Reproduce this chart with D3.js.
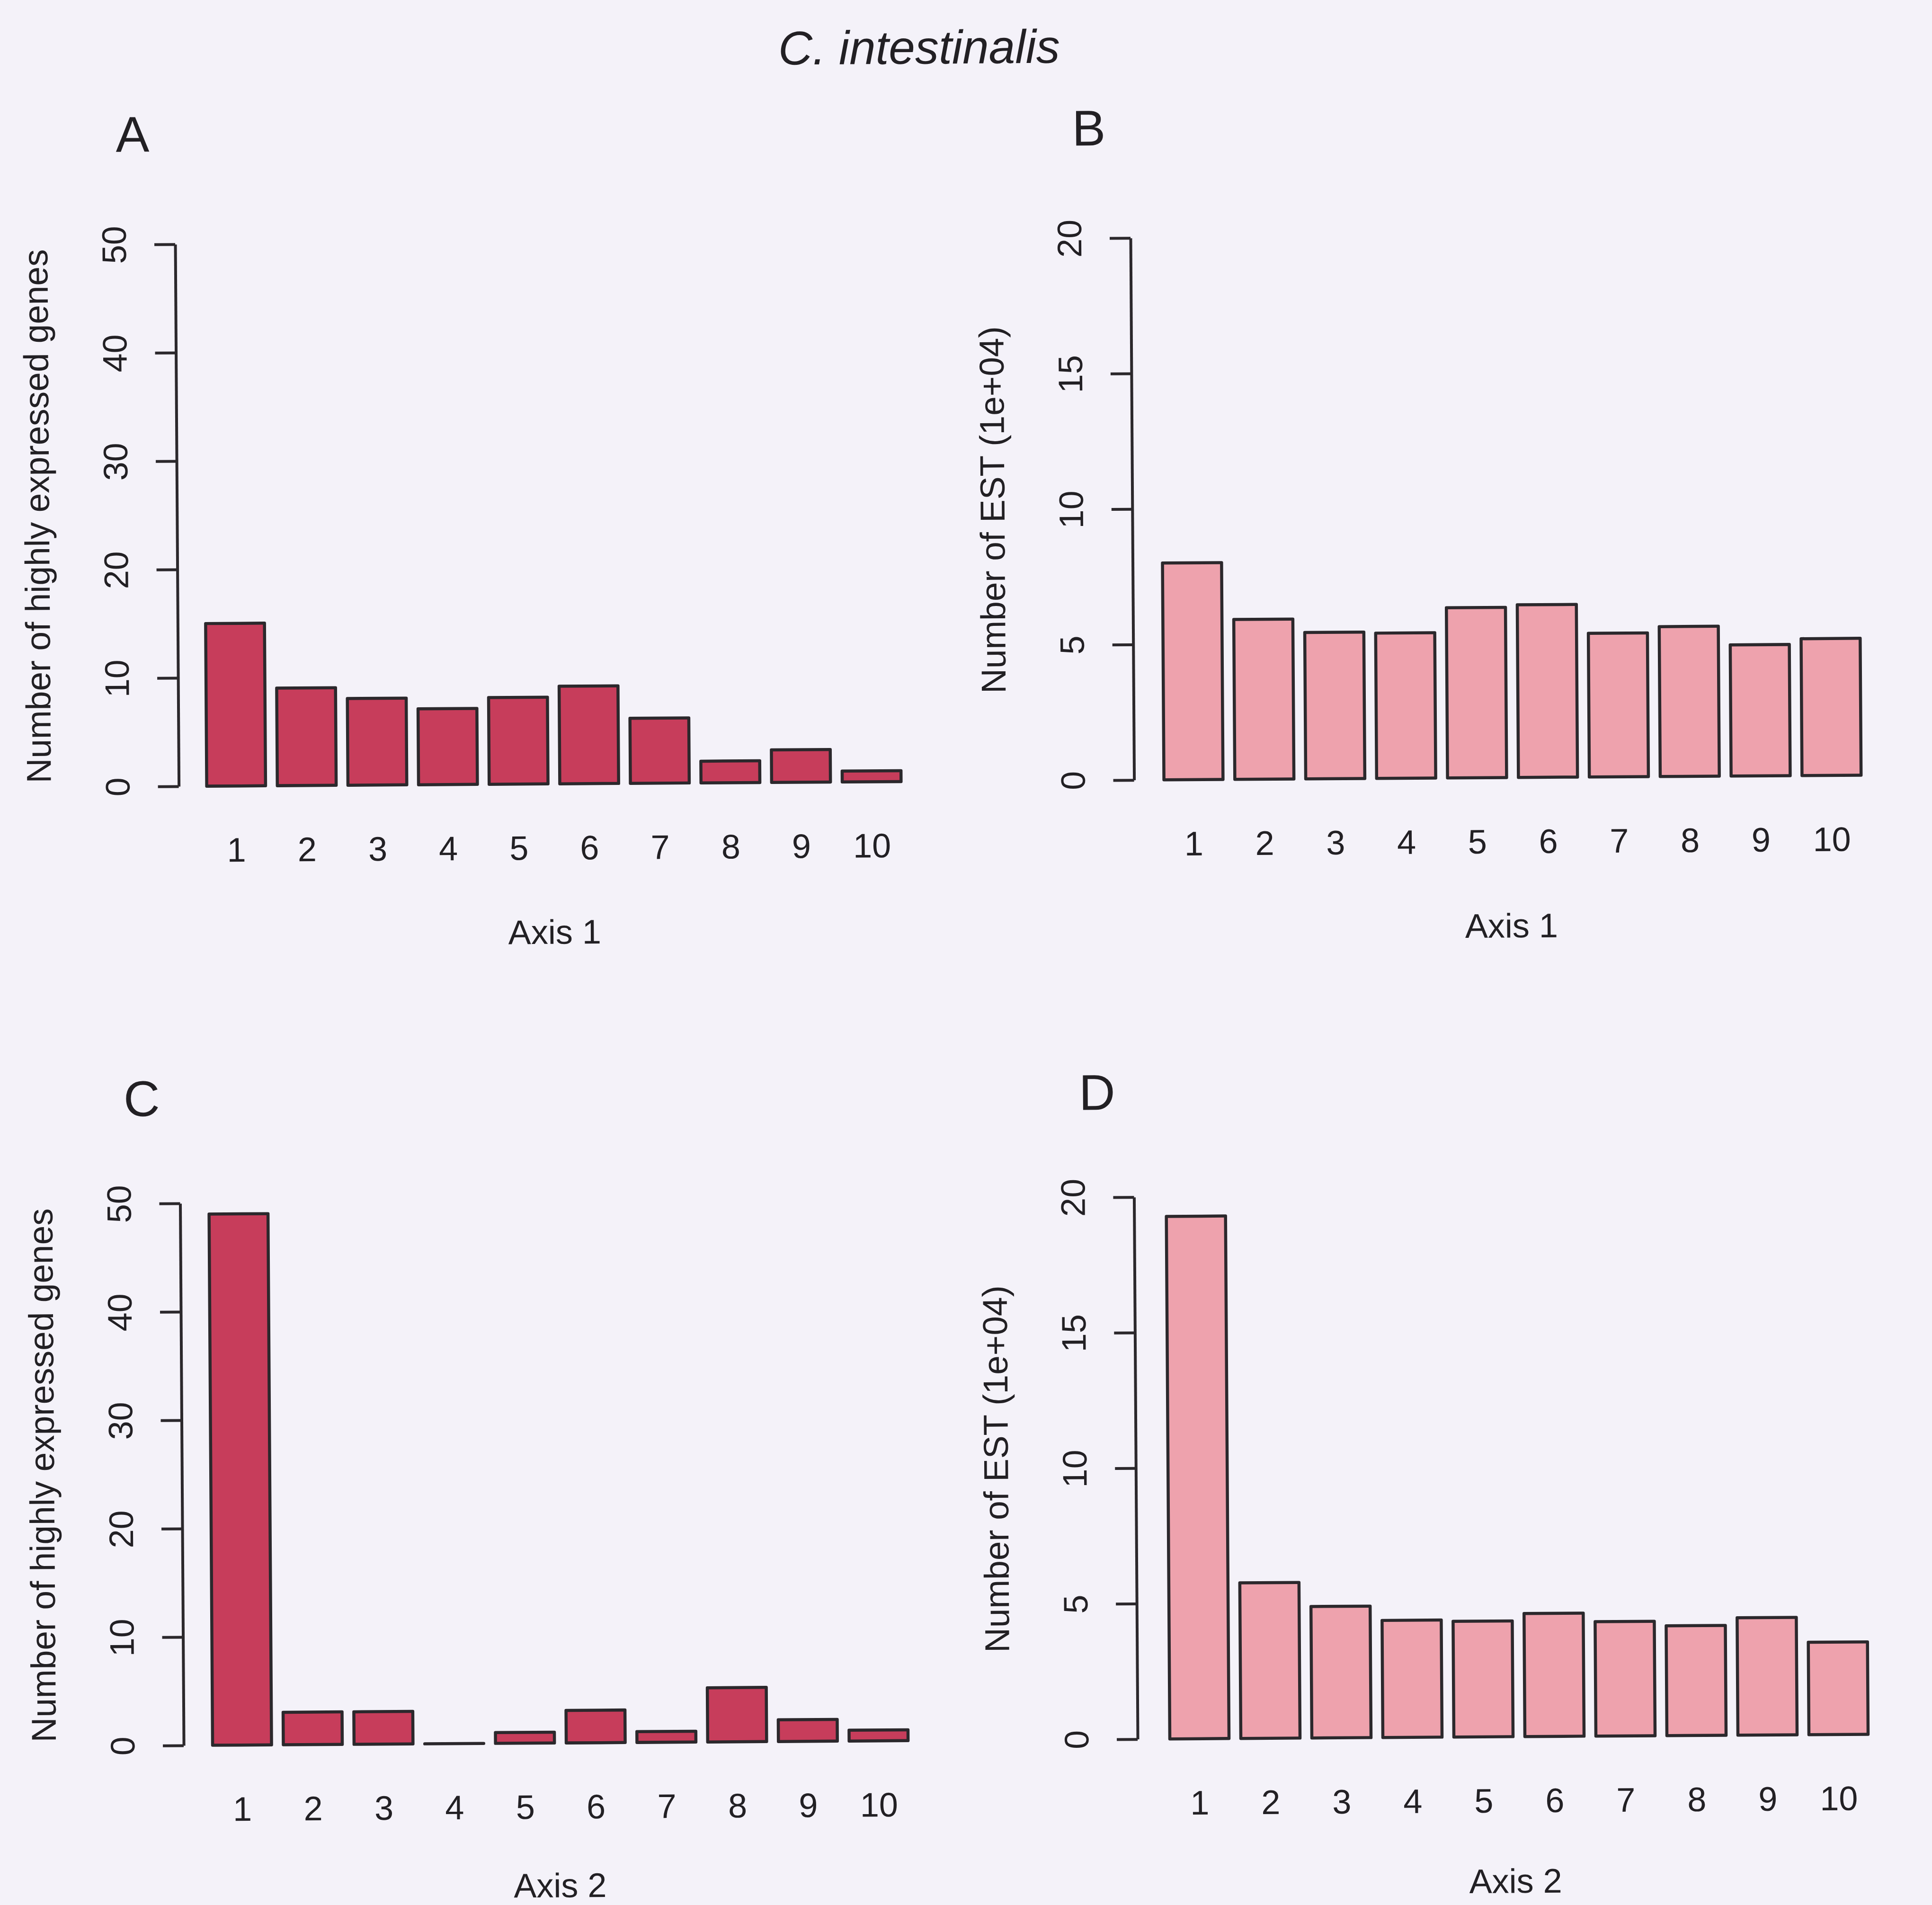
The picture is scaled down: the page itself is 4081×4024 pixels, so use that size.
<!DOCTYPE html>
<html>
<head>
<meta charset="utf-8">
<script src="https://cdn.jsdelivr.net/npm/d3@7"></script>
<style>
  html, body { margin: 0; padding: 0; background: #f4f2f9; }
  svg { display: block; }
</style>
</head>
<body>
<script>
// ---- data ----------------------------------------------------------------
const categories = ["1", "2", "3", "4", "5", "6", "7", "8", "9", "10"];

// Number of highly expressed genes per class along each axis
const axis1Genes = [15, 9, 8, 7, 8, 9, 6, 2, 3, 1];
const axis2Genes = [49, 3, 3, 0, 1, 3, 1, 5, 2, 1];

// Number of EST (in units of 1e+04) per class along each axis
const axis1Est = [8.0, 5.9, 5.4, 5.36, 6.28, 6.37, 5.3, 5.53, 4.84, 5.05];
const axis2Est = [19.28, 5.74, 4.85, 4.32, 4.27, 4.54, 4.22, 4.05, 4.33, 3.41];

const genesTicks = [0, 10, 20, 30, 40, 50];
const estTicks = [0, 5, 10, 15, 20];

const titleText = "C. intestinalis";
const genesLabel = "Number of highly expressed genes";
const estLabel = "Number of EST (1e+04)";

// ---- page ----------------------------------------------------------------
const W = 4081, H = 4024;
const FONT = "'Liberation Sans', Arial, Helvetica, sans-serif";
const INK = "#222024";
const EDGE = "#2b282c";
const CRIMSON = "#c73d5b";
const PINK = "#eea2ad";

const svg = d3.select("body").append("svg")
  .attr("width", W).attr("height", H)
  .attr("viewBox", `0 0 ${W} ${H}`);

svg.append("rect").attr("width", W).attr("height", H).attr("fill", "#f4f2f9");

// the figure sits very slightly turned on the sheet
const fig = svg.append("g").attr("transform", "rotate(-0.38 2040 2012)");

fig.append("text")
  .attr("x", 1954).attr("y", 134)
  .attr("text-anchor", "middle")
  .style("font-family", FONT).style("font-size", "100px").style("font-style", "italic")
  .attr("fill", INK)
  .text(titleText);

const PLOT_H = 1145;
const panels = [
  { letter: "A", lx: 256, ly: 309, values: axis1Genes, ticks: genesTicks, ylab: genesLabel, xlab: "Axis 1",
    fill: CRIMSON, axisX: 380, bar1: 439, unit: 124.3, base: 1650, xlabGap: 338 },
  { letter: "B", lx: 2276, ly: 309, values: axis1Est, ticks: estTicks, ylab: estLabel, xlab: "Axis 1",
    fill: PINK, axisX: 2398, bar1: 2461, unit: 124.8, base: 1650, xlabGap: 338 },
  { letter: "C", lx: 259, ly: 2346, values: axis2Genes, ticks: genesTicks, ylab: genesLabel, xlab: "Axis 2",
    fill: CRIMSON, axisX: 377, bar1: 438, unit: 124.5, base: 3676, xlabGap: 326 },
  { letter: "D", lx: 2277, ly: 2346, values: axis2Est, ticks: estTicks, ylab: estLabel, xlab: "Axis 2",
    fill: PINK, axisX: 2392, bar1: 2460, unit: 125.0, base: 3676, xlabGap: 330 }
];

panels.forEach(p => {
  const g = fig.append("g");
  const u = p.unit;
  const top = p.base - PLOT_H;

  // bar positions follow barplot spacing: width 1, gap 0.2
  const x = d3.scaleBand()
    .domain(categories)
    .range([p.bar1 - 0.1 * u, p.bar1 + 11.9 * u])
    .paddingInner(1 / 6)
    .paddingOuter(1 / 12);
  const y = d3.scaleLinear()
    .domain([0, d3.max(p.ticks)])
    .range([p.base, top]);

  // panel letter
  g.append("text")
    .attr("x", p.lx).attr("y", p.ly)
    .style("font-family", FONT).style("font-size", "106px")
    .attr("fill", INK)
    .text(p.letter);

  // bars
  g.selectAll("path.bar")
    .data(p.values.map((v, i) => ({ k: categories[i], v })))
    .join("path")
    .attr("class", "bar")
    .attr("d", d => {
      const x0 = x(d.k), x1 = x0 + x.bandwidth();
      const y0 = y(0), y1 = y(d.v);
      return `M${x0},${y0}V${y1}H${x1}V${y0}Z`;
    })
    .attr("fill", p.fill)
    .attr("stroke", EDGE)
    .attr("stroke-width", 6.5)
    .attr("stroke-linejoin", "round");

  // y axis
  const yAxis = g.append("g")
    .attr("transform", `translate(${p.axisX},0)`)
    .call(d3.axisLeft(y).tickValues(p.ticks).tickSize(44).tickSizeOuter(0).tickFormat(d3.format("d")));
  yAxis.select(".domain").attr("stroke", EDGE).attr("stroke-width", 6);
  yAxis.selectAll(".tick line").attr("stroke", EDGE).attr("stroke-width", 6);
  yAxis.selectAll(".tick text")
    .attr("x", null).attr("dy", null)
    .attr("text-anchor", "middle")
    .attr("transform", "translate(-104,0) rotate(-90)")
    .attr("fill", INK)
    .style("font-family", FONT).style("font-size", "72px");

  // category labels under the bars
  const xAxis = g.append("g")
    .attr("transform", `translate(0,${p.base})`)
    .call(d3.axisBottom(x).tickSize(0));
  xAxis.select(".domain").remove();
  xAxis.selectAll(".tick text")
    .attr("y", 160).attr("dy", null)
    .attr("fill", INK)
    .style("font-family", FONT).style("font-size", "72px");

  // axis titles
  const plotLeft = p.axisX, plotRight = p.axisX + 12.744 * u;
  g.append("text")
    .attr("x", (plotLeft + plotRight) / 2).attr("y", p.base + p.xlabGap)
    .attr("text-anchor", "middle")
    .attr("fill", INK)
    .style("font-family", FONT).style("font-size", "72px")
    .text(p.xlab);
  g.append("text")
    .attr("transform", `translate(${p.axisX - 270},${(p.base + top) / 2}) rotate(-90)`)
    .attr("text-anchor", "middle")
    .attr("fill", INK)
    .style("font-family", FONT).style("font-size", "73px")
    .text(p.ylab);
});
</script>
</body>
</html>
